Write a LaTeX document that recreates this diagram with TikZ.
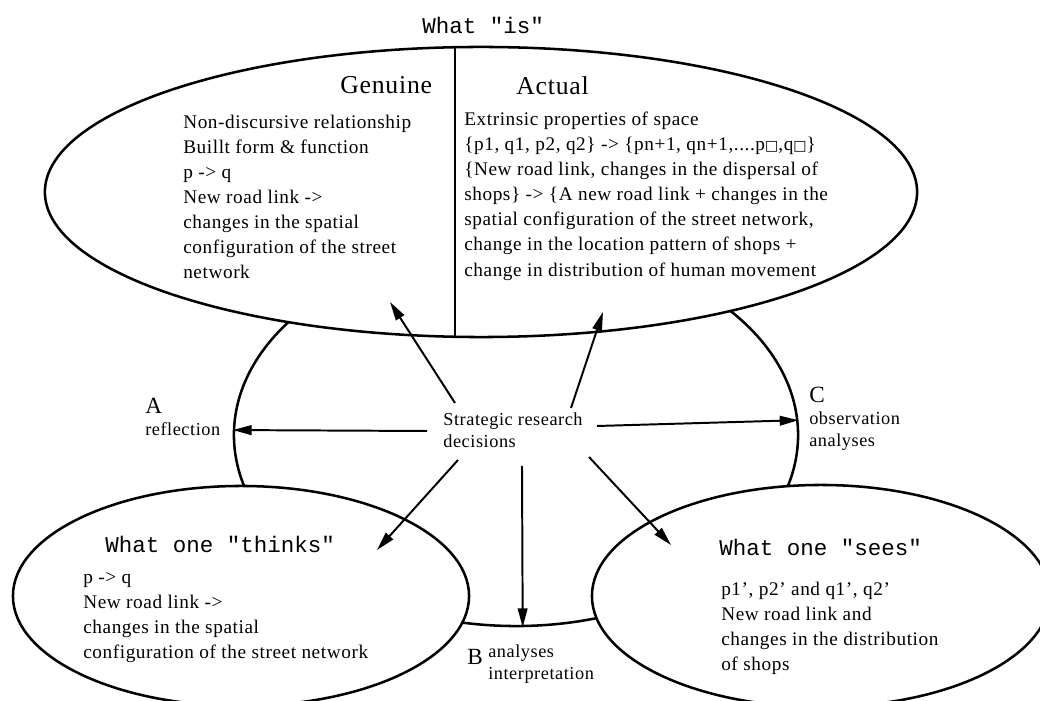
\documentclass[tikz,border=0pt]{standalone}
\usepackage{fontspec}
\setmainfont{Liberation Serif}[LetterSpace=3]
\newfontfamily\monofam{Liberation Mono}
\newfontfamily\boxfam{DejaVu Sans}
\newcommand{\emptyglyph}{{\boxfam\fontsize{10}{10}\selectfont □}}
\usetikzlibrary{arrows.meta, positioning, shapes.geometric, calc}

\begin{document}
\begin{tikzpicture}[x=0.025cm, y=-0.025cm,
    blob/.style={ellipse, draw, line width=1.8pt, fill=white, inner sep=0pt},
    body/.style={anchor=north west, align=left, inner sep=0pt, font=\fontsize{13.7}{17.8}\selectfont},
    small/.style={anchor=north west, align=left, inner sep=0pt, font=\fontsize{13}{15.5}\selectfont},
    head/.style={anchor=north west, inner sep=0pt, font=\fontsize{18.3}{22}\selectfont},
    letter/.style={anchor=north west, inner sep=0pt, font=\fontsize{16.5}{18}\selectfont},
    title/.style={anchor=north west, inner sep=0pt, font=\monofam\fontsize{16}{19}\selectfont},
    arr/.style={-{Triangle[length=0.47cm, width=0.24cm]}, line width=1.4pt}]
  \useasboundingbox (0,0) rectangle (1040,701);
  \clip (0,0) rectangle (1040,701);

  \node[blob, minimum width=14.1cm, minimum height=9.55cm] (mid) at (516,435) {};
  \node[blob, minimum width=21.8cm, minimum height=7.25cm] (is) at (481,192) {};
  \node[blob, minimum width=11.4cm, minimum height=5.5cm] (thinks) at (241,596) {};
  \node[blob, minimum width=11.45cm, minimum height=5.55cm] (sees) at (821,596) {};
  \draw[line width=1.8pt] ($(is.north)+(-26,0)$) -- ($(is.south)+(-26,0)$);

  \node[title] (istitle) at (422,17) {What "is"};
  \node[head] (genhead) at (340,76) {Genuine};
  \node[body] (genbody) at (183,115) {Non-discursive relationship\\Buillt form \& function\\p -> q\\New road link ->\\changes in the spatial\\configuration of the street\\network};
  \node[head] (acthead) at (516,76) {Actual};
  \node[body] (actbody) at (464,112) {Extrinsic properties of space\\
    \{p1, q1, p2, q2\} -> \{pn+1, qn+1,....p\emptyglyph,q\emptyglyph\}\\
    \{New road link, changes in the dispersal of\\
    shops\} -> \{A new road link + changes in the\\
    spatial configuration of the street network,\\
    change in the location pattern of shops +\\
    change in distribution of human movement};

  \node[title] (thinkstitle) at (105,536) {What one "thinks"};
  \node[body] (thinksbody) at (83,572) {p -> q\\New road link ->\\changes in the spatial\\configuration of the street network};
  \node[title] (seestitle) at (719,539) {What one "sees"};
  \node[body] (seesbody) at (721,582) {p1', p2' and q1', q2'\\New road link and\\changes in the distribution\\of shops};

  \node[small, anchor=center] (dec) at (513,430) {Strategic research\\decisions};
  \node[small] (alabel) at (145,398) {{\fontsize{16.5}{18}\selectfont A}\\reflection};
  \node[small] (clabel) at (809,387) {{\fontsize{16.5}{18}\selectfont C}\\observation\\analyses};
  \node[letter] (blabel) at (467,649) {B};
  \node[small] (bnote) at (488,645) {analyses\\interpretation};

  \coordinate (gentip) at (390,302);
  \coordinate (acttip) at (603,312);
  \coordinate (thinkstip) at (377,550);
  \coordinate (seestip) at (671,545);
  \draw[arr] ($(dec)+(-58,-27)$) -- (gentip);
  \draw[arr] ($(dec)+(58,-22)$) -- (acttip);
  \draw[arr] ($(dec)+(-86,1)$) -- (mid.179);
  \draw[arr] ($(dec)+(84,-4)$) -- (mid.3);
  \draw[arr] ($(dec)+(-55,30)$) -- (thinkstip);
  \draw[arr] ($(dec)+(9,36)$) -- (mid.272);
  \draw[arr] ($(dec)+(76,27)$) -- (seestip);
\end{tikzpicture}
\end{document}
